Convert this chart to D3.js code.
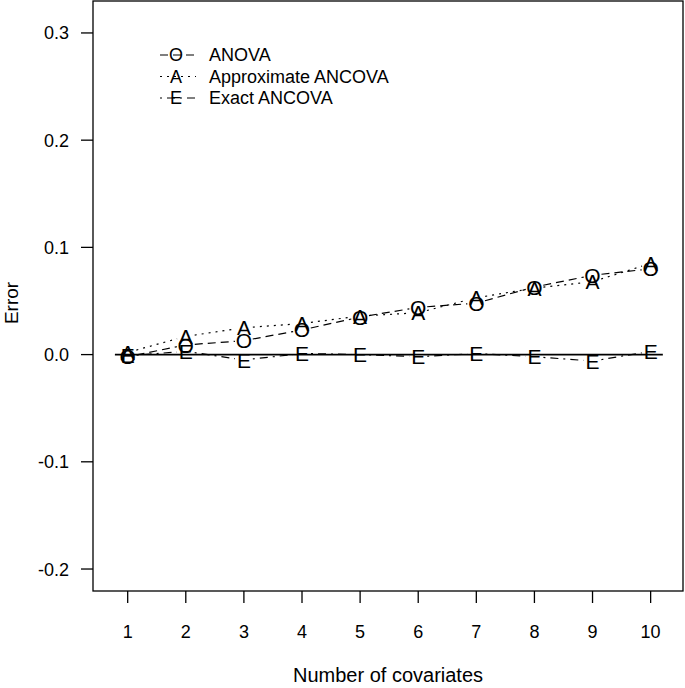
<!DOCTYPE html>
<html>
<head>
<meta charset="UTF-8" />
<title>document</title>
<script src="https://d3js.org/d3.v7.min.js"></script>
<style>
  body { margin: 0; background: #fff; }
  text { font-family: "Liberation Sans", Arial, sans-serif; fill: #000; }
  .frame { fill: none; stroke: #000; stroke-width: 1.3; }
  .tick { stroke: #000; stroke-width: 1.3; }
  .ser { fill: none; stroke: #000; stroke-width: 1.2; }
</style>
</head>
<body>
<script type="text/javascript">
var covariates = [1, 2, 3, 4, 5, 6, 7, 8, 9, 10];
var anova = [-0.002, 0.009, 0.013, 0.023, 0.035, 0.044, 0.048, 0.063, 0.074, 0.080];
var approxAncova = [0.002, 0.017, 0.025, 0.029, 0.036, 0.039, 0.053, 0.062, 0.068, 0.085];
var exactAncova = [-0.001, 0.003, -0.005, 0.001, 0.000, -0.002, 0.001, -0.002, -0.006, 0.003];
var yTicks = [-0.2, -0.1, 0.0, 0.1, 0.2, 0.3];
var zeroLine = [0.78, 10.21];
var seriesNames = ["ANOVA", "Approximate ANCOVA", "Exact ANCOVA"];
var seriesChars = ["O", "A", "E"];
var seriesDash = ["8,5", "2,5", "2,5,8,5"];

var width = 685, height = 688;
var plotLeft = 93, plotRight = 683, plotTop = 1, plotBottom = 591;

var svg = d3.select("body").append("svg").attr("width", width).attr("height", height);

var x = d3.scaleLinear().domain([0.403, 10.557]).range([plotLeft, plotRight]);
var y = d3.scaleLinear().domain([-0.2205, 0.3298]).range([plotBottom, plotTop]);

svg.append("rect").attr("class", "frame")
  .attr("x", plotLeft).attr("y", plotTop)
  .attr("width", plotRight - plotLeft).attr("height", plotBottom - plotTop);

// y axis
var ya = svg.append("g");
yTicks.forEach(function(t) {
  ya.append("line").attr("class", "tick")
    .attr("x1", plotLeft - 12).attr("x2", plotLeft).attr("y1", y(t)).attr("y2", y(t));
  ya.append("text").attr("x", plotLeft - 24).attr("y", y(t)).attr("dy", "0.36em")
    .attr("text-anchor", "end").style("font-size", "18px")
    .text(d3.format(".1f")(t).replace("\u2212", "-"));
});
// x axis
var xa = svg.append("g");
covariates.forEach(function(t) {
  xa.append("line").attr("class", "tick")
    .attr("x1", x(t)).attr("x2", x(t)).attr("y1", plotBottom).attr("y2", plotBottom + 12);
  xa.append("text").attr("x", x(t)).attr("y", 638)
    .attr("text-anchor", "middle").style("font-size", "18px").text(t);
});

svg.append("text").attr("x", (plotLeft + plotRight) / 2).attr("y", 682)
  .attr("text-anchor", "middle").style("font-size", "20px").text("Number of covariates");
svg.append("text").attr("transform", "translate(18,303) rotate(-90)")
  .attr("text-anchor", "middle").style("font-size", "19px").text("Error");

// zero reference line
svg.append("line").attr("x1", x(zeroLine[0])).attr("x2", x(zeroLine[1]))
  .attr("y1", y(0)).attr("y2", y(0)).attr("stroke", "#000").attr("stroke-width", 1.6);

// series, drawn like type="b": segments with gaps around the characters
var allSeries = [anova, approxAncova, exactAncova];
var gap = 9;
allSeries.forEach(function(vals, si) {
  var g = svg.append("g");
  for (var i = 0; i < vals.length - 1; i++) {
    var x0 = x(covariates[i]), y0 = y(vals[i]);
    var x1 = x(covariates[i + 1]), y1 = y(vals[i + 1]);
    var dx = x1 - x0, dy = y1 - y0, len = Math.sqrt(dx * dx + dy * dy);
    if (len <= 2 * gap) continue;
    var ux = dx / len, uy = dy / len;
    g.append("line").attr("class", "ser").attr("stroke-dasharray", seriesDash[si])
      .attr("x1", x0 + ux * gap).attr("y1", y0 + uy * gap)
      .attr("x2", x1 - ux * gap).attr("y2", y1 - uy * gap);
  }
  g.selectAll("text.pt").data(vals).enter().append("text").attr("class", "pt")
    .attr("x", function(d, i) { return x(covariates[i]); })
    .attr("y", function(d) { return y(d); })
    .attr("dy", "0.36em").attr("text-anchor", "middle")
    .style("font-size", "21px").text(seriesChars[si]);
});

// legend
var lg = svg.append("g");
seriesNames.forEach(function(name, i) {
  var ly = 55 + i * 21.5;
  lg.append("line").attr("class", "ser").attr("stroke-dasharray", seriesDash[i])
    .attr("x1", 160).attr("x2", 196).attr("y1", ly).attr("y2", ly);
  lg.append("text").attr("x", 176).attr("y", ly).attr("dy", "0.36em")
    .attr("text-anchor", "middle").style("font-size", "18px").text(seriesChars[i]);
  lg.append("text").attr("x", 209).attr("y", ly).attr("dy", "0.36em")
    .style("font-size", "18px").text(name);
});
</script>
</body>
</html>
